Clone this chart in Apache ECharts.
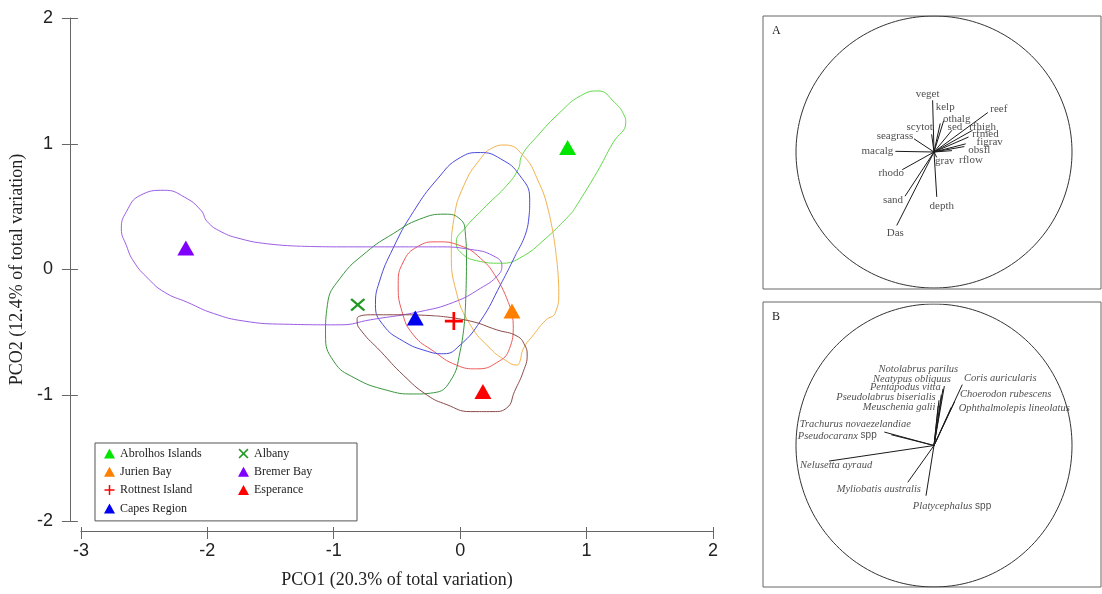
<!DOCTYPE html>
<html><head><meta charset="utf-8">
<script src="https://cdn.jsdelivr.net/npm/echarts@6/dist/echarts.min.js"></script>
<style>html,body{margin:0;padding:0;background:#fff}#c{width:1102px;height:594px}</style>
</head><body><div id="c"></div>
<script>
// ---------------- DATA ----------------
const groups = ['Abrolhos Islands','Jurien Bay','Rottnest Island','Capes Region','Albany','Bremer Bay','Esperance'];
const centroidX = [0.85, 0.41, -0.05, -0.355, -0.81, -2.17, 0.18];
const centroidY = [0.97, -0.33, -0.41, -0.385, -0.28, 0.17, -0.97];

const contourAbrolhos = [[0.89,0.46],[0.68,0.25],[0.47,0.09],[0.32,0.05],[0.13,0.07],[0.00,0.14],[-0.03,0.22],[0.03,0.32],[0.21,0.51],[0.37,0.67],[0.46,0.80],[0.49,0.91],[0.61,1.06],[0.79,1.25],[0.95,1.38],[1.09,1.42],[1.22,1.33],[1.30,1.22],[1.31,1.17],[1.21,1.01],[1.08,0.77]];
const contourJurien = [[0.76,0.11],[0.78,-0.18],[0.75,-0.35],[0.68,-0.40],[0.58,-0.52],[0.50,-0.63],[0.47,-0.74],[0.45,-0.76],[0.355,-0.72],[0.24,-0.63],[0.08,-0.44],[-0.03,-0.18],[-0.07,0.14],[-0.05,0.40],[0.03,0.67],[0.16,0.88],[0.26,0.97],[0.355,0.99],[0.50,0.905],[0.61,0.72],[0.70,0.46]];
const contourRottnest = [[0.38,-0.26],[0.42,-0.44],[0.39,-0.63],[0.29,-0.74],[0.13,-0.79],[-0.03,-0.76],[-0.21,-0.65],[-0.37,-0.52],[-0.46,-0.335],[-0.49,-0.12],[-0.45,0.06],[-0.34,0.18],[-0.18,0.22],[0.00,0.19],[0.16,0.09],[0.29,-0.07]];
const contourCapes = [[0.45,0.14],[0.32,-0.12],[0.16,-0.41],[0.00,-0.60],[-0.13,-0.67],[-0.26,-0.65],[-0.45,-0.57],[-0.61,-0.44],[-0.67,-0.28],[-0.64,-0.10],[-0.53,0.17],[-0.37,0.46],[-0.18,0.72],[0.00,0.89],[0.16,0.93],[0.32,0.88],[0.47,0.75],[0.55,0.56],[0.54,0.38]];
const contourAlbany = [[0.04,-0.335],[0.00,-0.65],[-0.08,-0.89],[-0.21,-0.98],[-0.37,-0.99],[-0.58,-0.96],[-0.84,-0.86],[-1.00,-0.73],[-1.065,-0.52],[-1.05,-0.28],[-0.95,-0.07],[-0.74,0.14],[-0.53,0.285],[-0.32,0.40],[-0.12,0.44],[0.00,0.40],[0.04,0.30],[0.05,0.06]];
const contourBremer = [[-1.26,0.185],[-0.95,0.18],[-0.60,0.18],[-0.18,0.18],[0.08,0.16],[0.26,0.11],[0.33,0.03],[0.30,-0.045],[0.16,-0.15],[-0.05,-0.26],[-0.32,-0.335],[-0.71,-0.40],[-0.95,-0.44],[-1.39,-0.435],[-1.71,-0.41],[-1.95,-0.35],[-2.16,-0.26],[-2.34,-0.18],[-2.47,-0.07],[-2.58,0.06],[-2.64,0.19],[-2.68,0.325],[-2.64,0.46],[-2.53,0.59],[-2.34,0.63],[-2.18,0.575],[-2.05,0.47],[-2.00,0.38],[-1.89,0.30],[-1.74,0.245],[-1.53,0.205]];
const contourEsperance = [[-0.18,-0.37],[0.08,-0.41],[0.29,-0.48],[0.45,-0.53],[0.51,-0.60],[0.53,-0.68],[0.50,-0.81],[0.43,-0.97],[0.37,-1.10],[0.26,-1.13],[0.08,-1.13],[-0.105,-1.075],[-0.26,-1.00],[-0.45,-0.84],[-0.63,-0.65],[-0.78,-0.49],[-0.815,-0.41],[-0.815,-0.39],[-0.71,-0.36],[-0.45,-0.36]];
const contours = [contourAbrolhos, contourJurien, contourRottnest, contourCapes, contourAlbany, contourBremer, contourEsperance];

const xTicks = [-3,-2,-1,0,1,2];
const yTicks = [-2,-1,0,1,2];

// Panel A: environmental vectors
const varsA = ['veget','kelp','othalg','sed','scytot','seagrass','macalg','rhodo','sand','Das','depth','grav','rflow','obsfl','figrav','rfmed','rfhigh','reef'];
const vecAx = [-0.01,0.045,0.07,0.13,-0.017,-0.145,-0.28,-0.23,-0.21,-0.27,0.02,0.02,0.13,0.22,0.23,0.25,0.28,0.39];
const vecAy = [0.38,0.21,0.23,0.16,0.13,0.097,0.005,-0.13,-0.325,-0.54,-0.33,-0.04,0.01,0.04,0.06,0.11,0.16,0.29];

// Panel B: species vectors
const varsB = ['Notolabrus parilus','Neatypus obliquus','Pentapodus vitta','Pseudolabrus biserialis','Meuschenia galii','Coris auricularis','Choerodon rubescens','Ophthalmolepis lineolatus','Trachurus novaezelandiae','Pseudocaranx spp','Nelusetta ayraud','Myliobatis australis','Platycephalus spp'];
const vecBx = [0.075,0.065,0.053,0.036,0.03,0.205,0.15,0.125,-0.36,-0.31,-0.76,-0.19,-0.058];
const vecBy = [0.42,0.40,0.36,0.32,0.28,0.43,0.31,0.27,0.095,0.076,-0.11,-0.26,-0.355];

// ---------------- STYLE ----------------
const markerColors = ['#00e600','#ff7f00','#ff0000','#0000ee','#229922','#8000ff','#ff0000'];
const contourColors = ['#62d94a','#f3b24e','#ee5a5a','#4b4bdc','#3a963e','#9b5de5','#8b4a4a'];
const PLUS = 'path://M-1.2,-8L1.2,-8L1.2,-1.2L8,-1.2L8,1.2L1.2,1.2L1.2,8L-1.2,8L-1.2,1.2L-8,1.2L-8,-1.2L-1.2,-1.2Z';
const CROSS = 'path://M-8,-6.2L-6.2,-8L0,-1.8L6.2,-8L8,-6.2L1.8,0L8,6.2L6.2,8L0,1.8L-6.2,8L-8,6.2L-1.8,0Z';
const symbols = ['triangle','triangle',PLUS,'triangle',CROSS,'triangle','triangle'];
const symbolSizes = [[17,15],[17,15],[18,18],[17,15],[15,13],[17,15],[17,15]];
const labelOffsetA = [[-5,-6],[5,-16],[13,-2],[3,-3],[-12,-7],[-19,-3],[-18,0],[-11,3.5],[-12,3.5],[-1.5,8],[5,9],[8,4],[19,9],[15,3.5],[24,-1.5],[17,-2.6],[10,-3.4],[11,-3.3]];
const labelOffsetB = [[-26,-17],[-31,-10],[-36,-7],[-53,-3],[-39,1],[38,-6],[51,-7],[63,1],[-29,-8],[-54,1],[7,4.5],[-29,7],[26,11]];
const SERIF = 'Liberation Serif';
const SANS = 'Liberation Sans';

const closeLoop = a => a.concat([a[0]]);
const unitCircle = [];
for (let i = 0; i <= 200; i++) { const t = i / 200 * 2 * Math.PI; unitCircle.push([Math.cos(t), Math.sin(t)]); }

const hiddenAxis = (g, mn, mx) => ({type:'value', gridIndex:g, show:false, min:mn, max:mx});

const series = [];
contours.forEach((c, i) => series.push({
  type:'line', name: groups[i] + ' contour', xAxisIndex:0, yAxisIndex:0,
  data: closeLoop(c), smooth:0.5, showSymbol:false, silent:true, z:2,
  lineStyle:{color:contourColors[i], width:1}
}));
groups.forEach((g, i) => series.push({
  type:'scatter', name:g, xAxisIndex:0, yAxisIndex:0,
  data:[[centroidX[i], centroidY[i]]], symbol:symbols[i], symbolSize:symbolSizes[i],
  itemStyle:{color:markerColors[i], opacity:1}, z:5, silent:true
}));

function panelSeries(ax, names, vx, vy, offs, isB) {
  series.push({type:'line', xAxisIndex:ax, yAxisIndex:ax, data:unitCircle, showSymbol:false, silent:true,
    lineStyle:{color:'#333', width:1}});
  series.push({type:'lines', coordinateSystem:'cartesian2d', xAxisIndex:ax, yAxisIndex:ax, silent:true,
    data: names.map((n,i)=>({coords:[[0,0],[vx[i],vy[i]]]})),
    lineStyle:{color:'#1a1a1a', width:1, opacity:1}});
  series.push({type:'scatter', xAxisIndex:ax, yAxisIndex:ax, symbolSize:1, silent:true,
    itemStyle:{color:'rgba(0,0,0,0)'},
    data: names.map((n,i)=>({name:n, value:[vx[i],vy[i]], label:{offset:offs[i]}})),
    label: isB ? {show:true, position:'inside', fontFamily:SANS, fontSize:10, color:'#222',
      formatter: p => p.name.endsWith(' spp') ? '{i|' + p.name.slice(0,-4) + '} spp' : '{i|' + p.name + '}',
      rich:{i:{fontFamily:SERIF, fontStyle:'italic', fontSize:10.5, color:'#222'}}}
    : {show:true, position:'inside', fontFamily:SERIF, fontSize:11, color:'#222', formatter:'{b}'}
  });
}
panelSeries(3, varsA, vecAx, vecAy, labelOffsetA, false);
panelSeries(5, varsB, vecBx, vecBy, labelOffsetB, true);

const legendText = {fontFamily:SERIF, fontSize:12, color:'#222', lineHeight:14, width:95};
const option = {
  animation:false,
  backgroundColor:'#fff',
  title:[
    {text:'A', left:767, top:20, textStyle:{fontFamily:SERIF, fontSize:12, fontWeight:'normal', color:'#222'}},
    {text:'B', left:767, top:306, textStyle:{fontFamily:SERIF, fontSize:12, fontWeight:'normal', color:'#222'}}
  ],
  grid:[
    {left:80, right:389, top:18, bottom:71},
    {left:763, top:16, width:338, height:273, show:true, borderColor:'#666', borderWidth:1, backgroundColor:'transparent'},
    {left:796, top:16, width:276, height:272},
    {left:763, top:302, width:338, height:285, show:true, borderColor:'#666', borderWidth:1, backgroundColor:'transparent'},
    {left:796, top:304, width:276, height:283}
  ],
  xAxis:[
    {type:'value', gridIndex:0, min:xTicks[0], max:xTicks[xTicks.length-1], interval:1, position:'bottom', offset:10,
      axisLine:{show:true, onZero:false, lineStyle:{color:'#666', width:1}},
      axisTick:{show:true, length:8, lineStyle:{color:'#666'}},
      axisLabel:{fontFamily:SANS, fontSize:18, color:'#222', margin:11},
      splitLine:{show:false},
      name:'PCO1 (20.3% of total variation)', nameLocation:'middle', nameGap:40,
      nameTextStyle:{fontFamily:SERIF, fontSize:18, color:'#222'}},
    {type:'value', gridIndex:0, min:xTicks[0], max:xTicks[xTicks.length-1], interval:1, position:'bottom', offset:10,
      axisLine:{show:false, onZero:false}, axisTick:{show:true, inside:true, length:4, lineStyle:{color:'#666'}},
      axisLabel:{show:false}, splitLine:{show:false}},
    hiddenAxis(1, -1, 1), hiddenAxis(2, -1, 1), hiddenAxis(3, -1, 1), hiddenAxis(4, -1, 1)
  ],
  yAxis:[
    {type:'value', gridIndex:0, min:yTicks[0], max:yTicks[yTicks.length-1], interval:1, position:'left', offset:11,
      axisLine:{show:true, onZero:false, lineStyle:{color:'#666', width:1}},
      axisTick:{show:true, length:8, lineStyle:{color:'#666'}},
      axisLabel:{fontFamily:SANS, fontSize:18, color:'#222', margin:17},
      splitLine:{show:false},
      name:'PCO2 (12.4% of total variation)', nameLocation:'middle', nameGap:40,
      nameTextStyle:{fontFamily:SERIF, fontSize:18, color:'#222'}},
    {type:'value', gridIndex:0, min:yTicks[0], max:yTicks[yTicks.length-1], interval:1, position:'left', offset:11,
      axisLine:{show:false, onZero:false}, axisTick:{show:true, inside:true, length:8, lineStyle:{color:'#666'}},
      axisLabel:{show:false}, splitLine:{show:false}},
    hiddenAxis(1, -1, 1), hiddenAxis(2, -1, 1), hiddenAxis(3, -1, 1), hiddenAxis(4, -1, 1)
  ],
  legend:[
    {data: groups.slice(0,4).map((g,i)=>({name:g, icon:symbols[i]})), orient:'vertical', left:95, top:443,
      padding:[3.5,142,5.5,9], borderColor:'#555', borderWidth:1, itemWidth:11, itemHeight:10, itemGap:4.3,
      selectedMode:false, textStyle:legendText},
    {data: groups.slice(4).map((g,i)=>({name:g, icon:symbols[i+4]})), orient:'vertical', left:238, top:446.5,
      padding:0, itemWidth:11, itemHeight:10, itemGap:4.3, selectedMode:false, textStyle:legendText}
  ],
  series: series
};
const chart = echarts.init(document.getElementById('c'), null, {renderer:'canvas'});
chart.setOption(option);
</script></body></html>
